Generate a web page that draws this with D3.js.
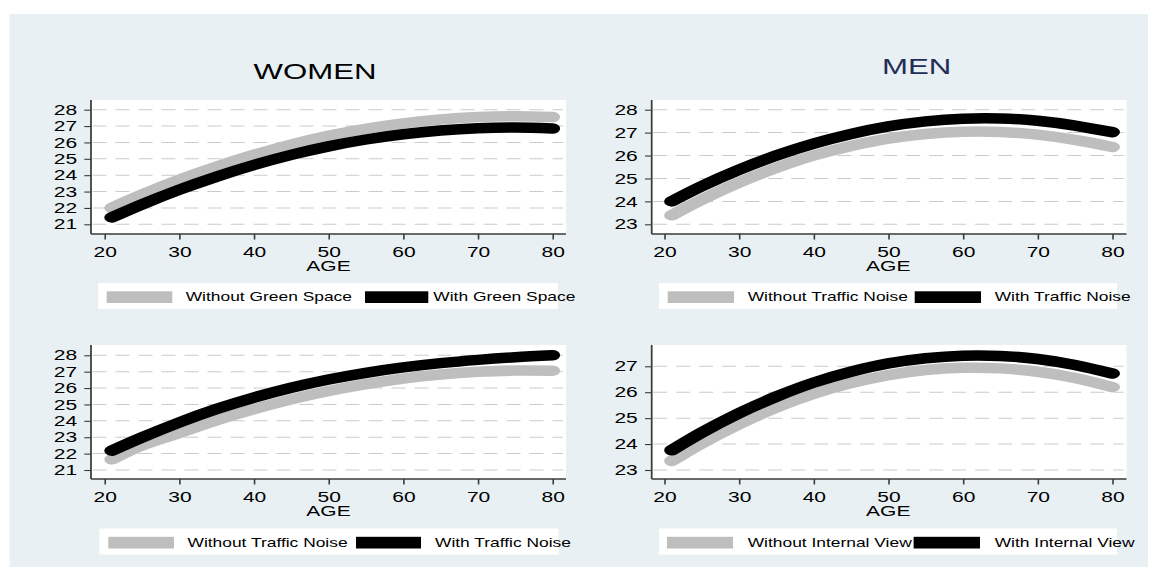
<!DOCTYPE html>
<html>
<head>
<meta charset="utf-8">
<script src="https://cdn.jsdelivr.net/npm/d3@7"></script>
<style>
  html, body { margin: 0; padding: 0; background: #ffffff; }
  svg { display: block; font-family: "Liberation Sans", Arial, Helvetica, sans-serif; }
</style>
</head>
<body>
<svg id="chart" width="1158" height="581"></svg>
<script>
// ---- data -------------------------------------------------------------
const ages = [21, 25, 30, 35, 40, 45, 50, 55, 60, 65, 70, 75, 80];

// Women: green space
const womenWithoutGreen = [22.0, 22.8, 23.71, 24.52, 25.24, 25.87, 26.4, 26.83, 27.16, 27.4, 27.55, 27.6, 27.55];
const womenWithGreen    = [21.42, 22.21, 23.11, 23.91, 24.62, 25.24, 25.76, 26.18, 26.5, 26.73, 26.87, 26.91, 26.85];

// Men: traffic noise
const menWithoutNoise = [23.39, 24.07, 24.82, 25.46, 26.0, 26.42, 26.74, 26.94, 27.04, 27.03, 26.91, 26.68, 26.37];
const menWithNoise    = [24.0, 24.66, 25.38, 26.0, 26.52, 26.94, 27.27, 27.49, 27.61, 27.62, 27.52, 27.31, 27.02];

// Women: traffic noise
const womenWithoutNoise = [21.65, 22.5, 23.26, 24.03, 24.71, 25.31, 25.82, 26.24, 26.58, 26.83, 26.99, 27.07, 27.06];
const womenWithNoise    = [22.18, 22.98, 23.9, 24.72, 25.42, 26.02, 26.52, 26.93, 27.26, 27.52, 27.72, 27.88, 28.0];

// Men: internal view
const menWithoutView = [23.35, 24.03, 24.77, 25.41, 25.94, 26.35, 26.66, 26.86, 26.94, 26.92, 26.79, 26.55, 26.2];
const menWithView    = [23.76, 24.44, 25.19, 25.83, 26.37, 26.79, 27.11, 27.31, 27.41, 27.4, 27.28, 27.05, 26.72];

const xTicks = [20, 30, 40, 50, 60, 70, 80];
const yTicksWomen = [21, 22, 23, 24, 25, 26, 27, 28];
const yTicksMenTop = [23, 24, 25, 26, 27, 28];
const yTicksMenBottom = [23, 24, 25, 26, 27];

const panelTitles = ["WOMEN", "MEN", "", ""];
const xAxisTitle = "AGE";
const legendGreen = ["Without Green Space", "With Green Space"];
const legendNoise = ["Without Traffic Noise", "With Traffic Noise"];
const legendView  = ["Without Internal View", "With Internal View"];

// ---- layout -----------------------------------------------------------
// The figure is drawn in a horizontally compressed frame and then widened by SX.
const SX = 1.45;
const ux = v => v / SX;

const colors = { without: "#bebebe", with: "#000000", bg: "#e9f0f3", grid: "#cbcbcb", axis: "#3a3a3a" };

const panels = [
  { title: panelTitles[0], titleX: 315, titleY: 79.3, titleColor: "#000000",
    left: 91, right: 566, top: 100, axisY: 234,
    xPix: [104.5, 552.5], yDom: [21, 28], yPix: [224.3, 109.7], yTicks: yTicksWomen,
    without: womenWithoutGreen, with: womenWithGreen, labels: legendGreen,
    legend: { x0: 98.3, x1: 557.7, y0: 283, y1: 309, keys: [[106.7, 172.3], [365, 428.3]], texts: [185.7, 433.3] } },
  { title: panelTitles[1], titleX: 916.7, titleY: 74.3, titleColor: "#1f2d57",
    left: 651.7, right: 1126.5, top: 100, axisY: 234,
    xPix: [664.3, 1112.3], yDom: [23, 28], yPix: [224.3, 109.7], yTicks: yTicksMenTop,
    without: menWithoutNoise, with: menWithNoise, labels: legendNoise,
    legend: { x0: 659, x1: 1117, y0: 283, y1: 309, keys: [[667.7, 734], [914.7, 981]], texts: [747.7, 994.7] } },
  { title: panelTitles[2], titleX: 315, titleY: 324, titleColor: "#000000",
    left: 91, right: 566, top: 345, axisY: 479,
    xPix: [104.5, 552.5], yDom: [21, 28], yPix: [470, 355.3], yTicks: yTicksWomen,
    without: womenWithoutNoise, with: womenWithNoise, labels: legendNoise,
    legend: { x0: 99.5, x1: 558.5, y0: 528.5, y1: 554.5, keys: [[108.3, 174], [356, 421]], texts: [187.5, 435] } },
  { title: panelTitles[3], titleX: 916.7, titleY: 324, titleColor: "#1f2d57",
    left: 651.7, right: 1126.5, top: 345, axisY: 479,
    xPix: [664.3, 1112.3], yDom: [23, 27], yPix: [470, 366.3], yTicks: yTicksMenBottom,
    without: menWithoutView, with: menWithView, labels: legendView,
    legend: { x0: 659, x1: 1117, y0: 528.5, y1: 554.5, keys: [[667, 733], [913.6, 980]], texts: [747.7, 994.7] } }
];

// ---- drawing ----------------------------------------------------------
const svg = d3.select("#chart");
const root = svg.append("g").attr("transform", `scale(${SX},1)`);

// figure background
root.append("rect")
  .attr("x", ux(9.5)).attr("y", 14)
  .attr("width", ux(1148 - 9.5)).attr("height", 567 - 14)
  .attr("fill", colors.bg);

panels.forEach(p => {
  const g = root.append("g");

  const x = d3.scaleLinear().domain([20, 80]).range(p.xPix.map(ux));
  const y = d3.scaleLinear().domain(p.yDom).range(p.yPix);

  // plot region
  g.append("rect")
    .attr("x", ux(p.left)).attr("y", p.top)
    .attr("width", ux(p.right - p.left)).attr("height", p.axisY - p.top)
    .attr("fill", "#ffffff");

  // dashed horizontal grid
  g.append("g").selectAll("line").data(p.yTicks).join("line")
    .attr("x1", ux(p.left + 1.5)).attr("x2", ux(p.right - 3))
    .attr("y1", d => y(d)).attr("y2", d => y(d))
    .attr("stroke", colors.grid).attr("stroke-width", 1)
    .attr("stroke-dasharray", `${ux(14)},${ux(9)}`);

  // fitted curves
  const line = d3.line()
    .x((d, i) => x(ages[i]))
    .y(d => y(d))
    .curve(d3.curveNatural);

  [["without", colors.without], ["with", colors.with]].forEach(([k, c]) => {
    g.append("path")
      .datum(p[k])
      .attr("d", line)
      .attr("fill", "none")
      .attr("stroke", c)
      .attr("stroke-width", 10.5)
      .attr("stroke-linecap", "round")
      .attr("stroke-linejoin", "round");
  });

  // axes
  const yAxis = d3.axisLeft(y).tickValues(p.yTicks).tickFormat(d3.format("d"))
    .tickSize(ux(6.7)).tickPadding(ux(7.2)).tickSizeOuter(0);
  const ya = g.append("g").attr("transform", `translate(${ux(p.left)},0)`).call(yAxis);

  const xAxis = d3.axisBottom(x).tickValues(xTicks).tickFormat(d3.format("d"))
    .tickSize(5.5).tickPadding(6.9).tickSizeOuter(0);
  const xa = g.append("g").attr("transform", `translate(0,${p.axisY})`).call(xAxis);

  [ya, xa].forEach(a => {
    a.select(".domain").remove();
    a.selectAll(".tick line").attr("stroke", colors.axis).attr("stroke-width", 1.1);
    a.selectAll(".tick text")
      .attr("fill", "#000000")
      .style("font-size", "14.5px")
      .style("font-family", "'Liberation Sans', Arial, sans-serif");
  });

  // axis lines spanning the whole plot region
  g.append("line")
    .attr("x1", ux(p.left)).attr("x2", ux(p.left))
    .attr("y1", p.top).attr("y2", p.axisY)
    .attr("stroke", colors.axis).attr("stroke-width", 1.2);
  g.append("line")
    .attr("x1", ux(p.left)).attr("x2", ux(p.right))
    .attr("y1", p.axisY).attr("y2", p.axisY)
    .attr("stroke", colors.axis).attr("stroke-width", 1.5);

  // x-axis title
  g.append("text")
    .attr("x", x(50)).attr("y", p.axisY + 37)
    .attr("text-anchor", "middle")
    .attr("fill", "#000000")
    .style("font-size", "14.5px")
    .text(xAxisTitle);

  // panel title
  if (p.title) {
    g.append("text")
      .attr("x", ux(p.titleX)).attr("y", p.titleY)
      .attr("text-anchor", "middle")
      .attr("fill", p.titleColor)
      .style("font-size", "21.5px")
      .text(p.title);
  }

  // legend
  const L = p.legend;
  const lg = g.append("g");
  lg.append("rect")
    .attr("x", ux(L.x0)).attr("y", L.y0)
    .attr("width", ux(L.x1 - L.x0)).attr("height", L.y1 - L.y0)
    .attr("fill", "#ffffff");
  const keyColors = [colors.without, colors.with];
  p.labels.forEach((lab, i) => {
    lg.append("rect")
      .attr("x", ux(L.keys[i][0])).attr("y", L.y0 + 8.3)
      .attr("width", ux(L.keys[i][1] - L.keys[i][0])).attr("height", 11.7)
      .attr("fill", keyColors[i]);
    lg.append("text")
      .attr("x", ux(L.texts[i])).attr("y", L.y0 + 18.3)
      .attr("fill", "#000000")
      .style("font-size", "12px")
      .text(lab);
  });
});
</script>
</body>
</html>
